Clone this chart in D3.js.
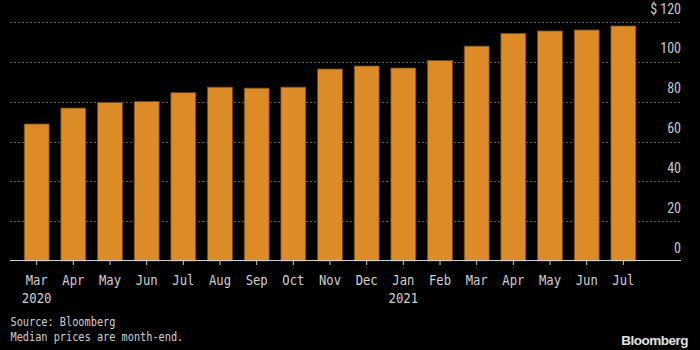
<!DOCTYPE html>
<html><head><meta charset="utf-8">
<script src="https://cdn.jsdelivr.net/npm/d3@7"></script>
<style>html,body{margin:0;padding:0;background:#000;}svg{display:block;}</style>
</head><body><div id="chart"></div>
<script>
const months = ["Mar","Apr","May","Jun","Jul","Aug","Sep","Oct","Nov","Dec","Jan","Feb","Mar","Apr","May","Jun","Jul"];
const years = ["2020","","","","","","","","","","2021","","","","","",""];
const values = [68.8, 76.8, 79.6, 80.1, 84.5, 87.3, 86.8, 87.3, 96.4, 97.9, 96.9, 100.7, 107.9, 114.3, 115.5, 116.0, 118.0];
const yTicks = [0, 20, 40, 60, 80, 100, 120];
const sourceLines = ["Source: Bloomberg", "Median prices are month-end."];

const W = 700, H = 350;
const svg = d3.select("#chart").append("svg").attr("width", W).attr("height", H);
svg.append("rect").attr("width", W).attr("height", H).attr("fill", "#000");

const keys = months.map((m, i) => i);
const x = d3.scaleBand().domain(keys).range([18.33, 641.7]).paddingInner(0.32).paddingOuter(0.16);
const y = d3.scaleLinear().domain([0, 120]).range([261, 22]);

// gridlines
svg.append("g").selectAll("line").data(yTicks.filter(t => t > 0)).join("line")
  .attr("x1", 10).attr("x2", 681)
  .attr("y1", d => Math.round(y(d)) + 0.5).attr("y2", d => Math.round(y(d)) + 0.5)
  .attr("stroke", "#5a5a5a").attr("stroke-width", 1).attr("stroke-dasharray", "2,2");

// y labels
svg.append("g").selectAll("text").data(yTicks).join("text")
  .attr("x", 681).attr("y", d => y(d) - 8.5)
  .attr("text-anchor", "end")
  .attr("fill", "#c8c8c8")
  .style("font-family", "'Liberation Sans Narrow','Arial Narrow','Roboto Condensed',sans-serif")
  .style("font-size", "14px")
  .text(d => d === 120 ? "$ 120" : d);

// bars
svg.append("g").selectAll("rect").data(values).join("rect")
  .attr("x", (d, i) => x(i))
  .attr("width", x.bandwidth())
  .attr("y", d => y(d))
  .attr("height", d => y(0) - y(d))
  .attr("fill", "#dd8b27")
  .attr("stroke", "#6e4816").attr("stroke-width", 0.8);

const monoFont = "'DejaVu Sans Mono',monospace";

// x axis
const xAxis = d3.axisBottom(x).tickSize(4).tickFormat(i => months[i]);
const gx = svg.append("g").attr("transform", `translate(0,${y(0)})`).call(xAxis);
gx.select(".domain").remove();
gx.selectAll(".tick line").attr("stroke", "#c8c8c8");
gx.selectAll(".tick text").attr("fill", "#d0d0d0").attr("dy", 0).attr("y", 23.5)
  .style("font-family", monoFont).style("font-size", "13.5px")
  .attr("textLength", i => months[i].length * 7.35).attr("lengthAdjust", "spacingAndGlyphs");
svg.append("line").attr("x1", 10).attr("x2", 681).attr("y1", y(0) - 0.5).attr("y2", y(0) - 0.5)
  .attr("stroke", "#d0d0d0").attr("stroke-width", 1);

// years
svg.append("g").selectAll("text").data(years.map((t, i) => ({t, i})).filter(d => d.t)).join("text")
  .attr("x", d => x(d.i) + x.bandwidth() / 2)
  .attr("y", y(0) + 41.5)
  .attr("text-anchor", "middle")
  .attr("fill", "#d0d0d0")
  .style("font-family", monoFont).style("font-size", "13.5px")
  .attr("textLength", d => d.t.length * 7.4).attr("lengthAdjust", "spacingAndGlyphs")
  .text(d => d.t);

// source notes
svg.append("g").selectAll("text").data(sourceLines).join("text")
  .attr("x", 10.5).attr("y", (d, i) => 326 + i * 15)
  .attr("fill", "#d0d0d0")
  .style("font-family", monoFont).style("font-size", "12.5px")
  .attr("textLength", d => d.length * 6.17).attr("lengthAdjust", "spacingAndGlyphs")
  .text(d => d);

// logo
svg.append("text").attr("x", 688).attr("y", 345).attr("text-anchor", "end")
  .attr("fill", "#e0e0e0")
  .style("font-family", "'Liberation Sans',Arial,sans-serif").style("font-weight", "bold")
  .style("font-size", "13.5px").style("letter-spacing", "-0.5px")
  .text("Bloomberg");
</script></body></html>
